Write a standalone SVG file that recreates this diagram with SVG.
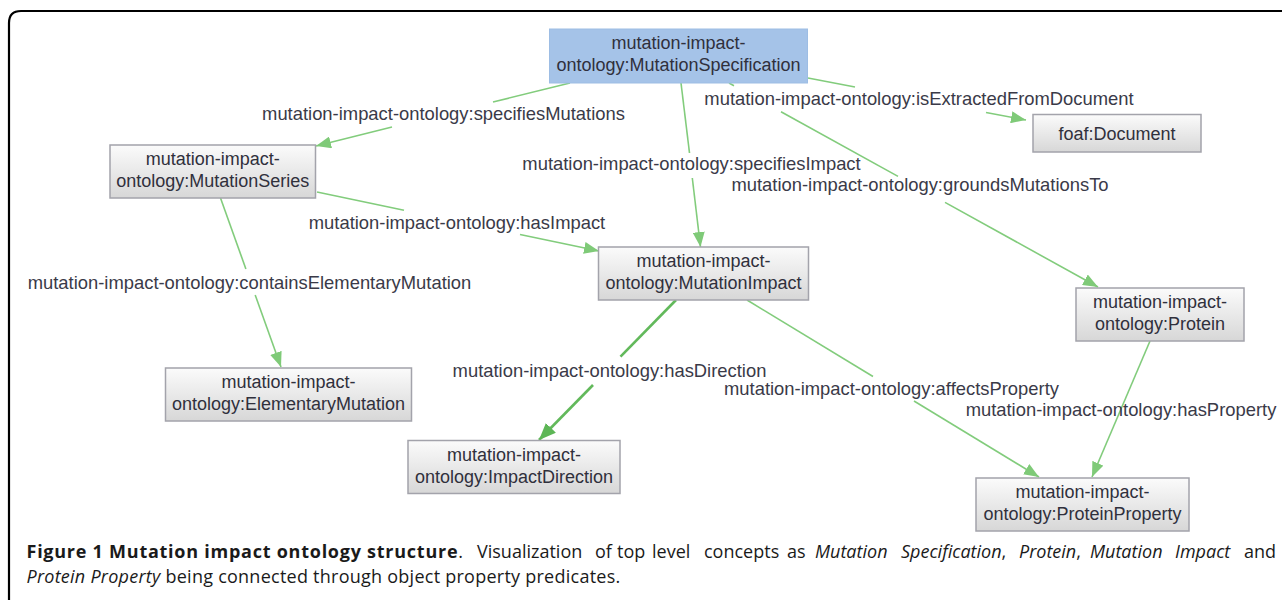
<svg xmlns="http://www.w3.org/2000/svg" width="1282" height="600" viewBox="0 0 1282 600">
  <defs>
    <linearGradient id="gray" x1="0" y1="0" x2="0" y2="1">
      <stop offset="0" stop-color="#fbfbfb"/>
      <stop offset="1" stop-color="#d7d7d7"/>
    </linearGradient>
    <marker id="arr" markerUnits="userSpaceOnUse" markerWidth="16" markerHeight="12" refX="15" refY="6" orient="auto">
      <path d="M0,0 L15,6 L0,12 Z" fill="#7fca78"/>
    </marker>
    <marker id="arr2" markerUnits="userSpaceOnUse" markerWidth="18" markerHeight="14" refX="17" refY="7" orient="auto">
      <path d="M0,0 L17,7 L0,14 Z" fill="#5db656"/>
    </marker>
  </defs>
  <style>
    .node rect.g { fill: url(#gray); stroke: #a3a3ab; stroke-width: 1.5; }
    .node rect.b { fill: #a5c3e8; stroke: #9dbde4; stroke-width: 1; }
    .nt { font-family: "Liberation Sans", Arial, sans-serif; font-size: 18px; fill: #30303c; text-anchor: middle; }
    .lbl { font-family: "Liberation Sans", Arial, sans-serif; font-size: 18.4px; fill: #3a3a48; text-anchor: middle; }
    .e { stroke: #82cc7c; stroke-width: 1.6; fill: none; }
    .e2 { stroke: #62b95b; stroke-width: 2.6; fill: none; }
    .cap { font-family: "Open Sans", "Noto Sans", sans-serif; font-size: 18px; fill: #1a1a1a; }
    .capb { font-weight: bold; letter-spacing: 0.75px; }
    .capi { font-style: italic; }
    .l2 { letter-spacing: 0.25px; }
  </style>
  <rect width="1282" height="600" fill="#ffffff"/>
  <path d="M9,600 L9,23 Q9,11 21,11 L1282,11" fill="none" stroke="#000" stroke-width="2.2"/>

  <g id="connectors">
    <!-- specifiesMutations -->
    <line class="e" x1="570" y1="83" x2="493" y2="102"/>
    <line class="e" x1="392" y1="127" x2="316" y2="146" marker-end="url(#arr)"/>
    <!-- specifiesImpact -->
    <line class="e" x1="681" y1="83" x2="689.5" y2="153"/>
    <line class="e" x1="692.3" y1="178" x2="700.5" y2="247" marker-end="url(#arr)"/>
    <!-- isExtractedFromDocument -->
    <line class="e" x1="808" y1="78" x2="855" y2="87"/>
    <line class="e" x1="986" y1="112.5" x2="1026" y2="120" marker-end="url(#arr)"/>
    <!-- groundsMutationsTo -->
    <line class="e" x1="729" y1="83" x2="734" y2="85.8"/>
    <line class="e" x1="781" y1="111.7" x2="898" y2="176.4"/>
    <line class="e" x1="945" y1="202.4" x2="1098" y2="287" marker-end="url(#arr)"/>
    <!-- hasImpact -->
    <line class="e" x1="317" y1="192" x2="404" y2="210.2"/>
    <line class="e" x1="520" y1="234.5" x2="599" y2="251" marker-end="url(#arr)"/>
    <!-- containsElementaryMutation -->
    <line class="e" x1="220.5" y1="198" x2="245.9" y2="269"/>
    <line class="e" x1="255.2" y1="295" x2="281" y2="367" marker-end="url(#arr)"/>
    <!-- hasDirection -->
    <line class="e2" x1="676" y1="300" x2="620.5" y2="356.7"/>
    <line class="e2" x1="593" y1="385" x2="539" y2="440" marker-end="url(#arr2)"/>
    <!-- affectsProperty -->
    <line class="e" x1="747" y1="300" x2="873" y2="376.5"/>
    <line class="e" x1="914" y1="401" x2="1039" y2="477" marker-end="url(#arr)"/>
    <!-- hasProperty -->
    <line class="e" x1="1150" y1="341" x2="1092" y2="477" marker-end="url(#arr)"/>

    <text class="lbl" x="443.5" y="120">mutation-impact-ontology:specifiesMutations</text>
    <text class="lbl" x="919" y="105">mutation-impact-ontology:isExtractedFromDocument</text>
    <text class="lbl" x="691.5" y="170">mutation-impact-ontology:specifiesImpact</text>
    <text class="lbl" x="920" y="191">mutation-impact-ontology:groundsMutationsTo</text>
    <text class="lbl" x="457" y="229">mutation-impact-ontology:hasImpact</text>
    <text class="lbl" x="249.5" y="289">mutation-impact-ontology:containsElementaryMutation</text>
    <text class="lbl" x="609.5" y="377">mutation-impact-ontology:hasDirection</text>
    <text class="lbl" x="891.5" y="395">mutation-impact-ontology:affectsProperty</text>
    <text class="lbl" x="1121" y="416">mutation-impact-ontology:hasProperty</text>
  </g>

  <g id="node-MutationSpecification" class="node">
    <rect class="b" x="549.5" y="29" width="258" height="54"/>
    <text class="nt" x="678.5" y="49">mutation-impact-</text>
    <text class="nt" x="678.5" y="71">ontology:MutationSpecification</text>
  </g>
  <g id="node-Document" class="node">
    <rect class="g" x="1033" y="114.5" width="168" height="37.5"/>
    <text class="nt" x="1117" y="139.5">foaf:Document</text>
  </g>
  <g id="node-MutationSeries" class="node">
    <rect class="g" x="110" y="145" width="205.5" height="53"/>
    <text class="nt" x="212.8" y="165">mutation-impact-</text>
    <text class="nt" x="212.8" y="187">ontology:MutationSeries</text>
  </g>
  <g id="node-MutationImpact" class="node">
    <rect class="g" x="598.5" y="247" width="210" height="53"/>
    <text class="nt" x="703.5" y="267">mutation-impact-</text>
    <text class="nt" x="703.5" y="289">ontology:MutationImpact</text>
  </g>
  <g id="node-Protein" class="node">
    <rect class="g" x="1076" y="288" width="168" height="53"/>
    <text class="nt" x="1160" y="308">mutation-impact-</text>
    <text class="nt" x="1160" y="330">ontology:Protein</text>
  </g>
  <g id="node-ElementaryMutation" class="node">
    <rect class="g" x="165.5" y="368" width="246" height="53"/>
    <text class="nt" x="288.5" y="388">mutation-impact-</text>
    <text class="nt" x="288.5" y="410">ontology:ElementaryMutation</text>
  </g>
  <g id="node-ImpactDirection" class="node">
    <rect class="g" x="408" y="440.5" width="212" height="53"/>
    <text class="nt" x="514" y="460.5">mutation-impact-</text>
    <text class="nt" x="514" y="482.5">ontology:ImpactDirection</text>
  </g>
  <g id="node-ProteinProperty" class="node">
    <rect class="g" x="976" y="478" width="213" height="53"/>
    <text class="nt" x="1082.5" y="498">mutation-impact-</text>
    <text class="nt" x="1082.5" y="520">ontology:ProteinProperty</text>
  </g>

  <g id="caption">
    <text class="cap" x="26.5" y="558"><tspan class="capb">Figure 1 Mutation impact ontology structure</tspan><tspan>.</tspan></text>
    <text class="cap" y="558"><tspan x="477">Visualization</tspan><tspan x="595">of</tspan><tspan x="617">top</tspan><tspan x="652">level</tspan><tspan x="704">concepts</tspan><tspan x="787">as</tspan><tspan class="capi" x="815">Mutation</tspan><tspan class="capi" x="901">Specification</tspan><tspan>,</tspan><tspan class="capi" x="1019">Protein</tspan><tspan>,</tspan><tspan class="capi" x="1090">Mutation</tspan><tspan class="capi" x="1175">Impact</tspan><tspan x="1244">and</tspan></text>
    <text class="cap l2" x="26.5" y="582.7"><tspan class="capi">Protein Property</tspan> being connected through object property predicates.</text>
  </g>
</svg>
